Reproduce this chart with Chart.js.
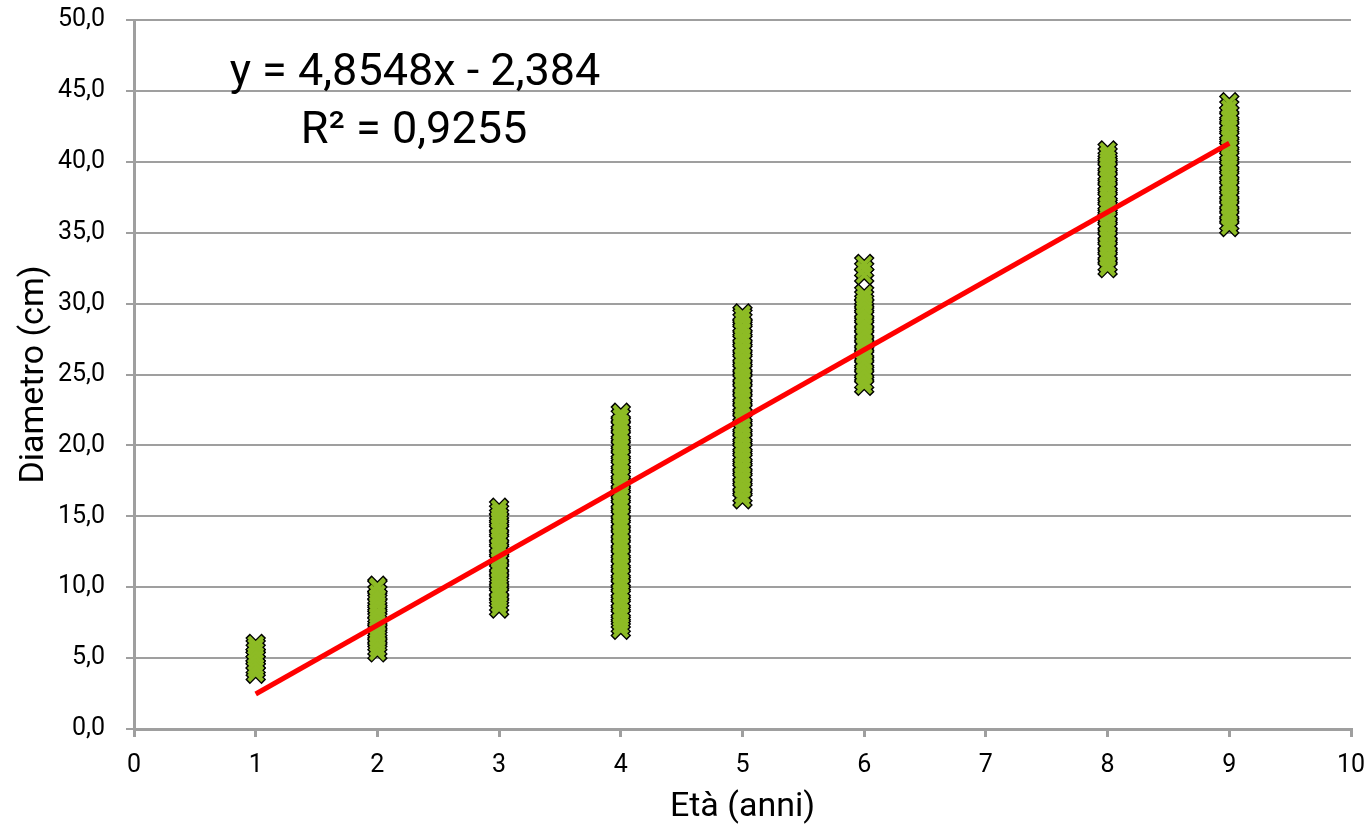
<!DOCTYPE html>
<html>
<head>
<meta charset="utf-8">
<script src="https://cdn.jsdelivr.net/npm/chart.js@4.4.1/dist/chart.umd.min.js"></script>
<style>
  body { margin: 0; background: #fff; }
  #wrap { width: 1369px; height: 831px; position: relative; }
</style>
</head>
<body>
<div id="wrap"><canvas id="chart"></canvas></div>
<script>
// Diameter (cm) measurements per age (years)
const diam1 = [3.9, 4.2, 4.4, 4.7, 5.0, 5.2, 5.5, 5.8, 6.0];
const diam2 = [5.4, 5.7, 6.0, 6.4, 6.7, 7.0, 7.4, 7.7, 8.0, 8.3, 8.7, 9.0, 9.3, 9.6, 10.0, 10.1];
const diam3 = [8.5, 8.8, 9.1, 9.5, 9.8, 10.2, 10.5, 10.8, 11.2, 11.5, 11.9, 12.2, 12.6, 12.9,
  13.3, 13.6, 14.0, 14.3, 14.7, 15.0, 15.3, 15.6];
const diam4 = [7.0, 7.3, 7.6, 8.0, 8.3, 8.7, 9.0, 9.4, 9.7, 10.1, 10.4, 10.8, 11.1, 11.5, 11.8,
  12.2, 12.5, 12.9, 13.2, 13.6, 13.9, 14.3, 14.6, 15.0, 15.3, 15.7, 16.0, 16.4, 16.7, 17.1,
  17.4, 17.8, 18.1, 18.5, 18.8, 19.2, 19.5, 19.9, 20.2, 20.6, 20.9, 21.3, 21.6, 22.0, 22.3];
const diam5 = [16.2, 16.5, 16.9, 17.2, 17.6, 17.9, 18.3, 18.6, 19.0, 19.3, 19.7, 20.0, 20.4,
  20.7, 21.1, 21.4, 21.8, 22.1, 22.5, 22.8, 23.2, 23.5, 23.9, 24.2, 24.6, 24.9, 25.3, 25.6,
  26.0, 26.3, 26.7, 27.0, 27.4, 27.7, 28.1, 28.4, 28.8, 29.1, 29.3];
const diam6 = [24.2, 24.5, 24.9, 25.2, 25.6, 25.9, 26.3, 26.6, 27.0, 27.3, 27.7, 28.0, 28.4,
  28.7, 29.1, 29.4, 29.8, 30.1, 30.4, 30.7, 32.0, 32.4, 32.8];
const diam8 = [32.5, 32.8, 33.2, 33.5, 33.9, 34.2, 34.6, 34.9, 35.3, 35.6, 36.0, 36.3, 36.7,
  37.0, 37.4, 37.7, 38.1, 38.4, 38.8, 39.1, 39.5, 39.8, 40.2, 40.5, 40.8];
const diam9 = [35.4, 35.7, 36.1, 36.4, 36.8, 37.1, 37.5, 37.8, 38.2, 38.5, 38.9, 39.2, 39.6,
  39.9, 40.3, 40.6, 41.0, 41.3, 41.7, 42.0, 42.4, 42.7, 43.1, 43.4, 43.8, 44.2];

const ages = [1, 2, 3, 4, 5, 6, 8, 9];
const diamByAge = [diam1, diam2, diam3, diam4, diam5, diam6, diam8, diam9];

// Linear trend line (from the chart label)
const slope = 4.8548;
const intercept = -2.384;
const trendX = [1, 9];
const equationText = "y = 4,8548x - 2,384";
const r2Text = "R² = 0,9255";

const xTicks = [0, 10, 1]; // min, max, step
const yTicks = [0, 50, 5];

const gridGray = "#9F9F9F";

// Build scatter points
const points = [];
ages.forEach((age, i) => {
  diamByAge[i].forEach((d) => points.push({ x: age, y: d }));
});
const trendPoints = trendX.map((x) => ({ x: x, y: slope * x + intercept }));

// Draw the equation and R² label
const equationLabel = {
  id: "equationLabel",
  afterDatasetsDraw(chart) {
    const ctx = chart.ctx;
    ctx.save();
    ctx.fillStyle = "#000";
    ctx.font = "45px Roboto";
    ctx.textAlign = "center";
    ctx.textBaseline = "alphabetic";
    ctx.fillText(equationText, 415, 85);
    ctx.fillText(r2Text, 414, 143);
    ctx.restore();
  },
};

// Fixed axis sizes, no extra label padding around the plot
function fixSize(scale, w, h) {
  if (w) scale.width = w;
  if (h) scale.height = h;
  scale.paddingTop = 0;
  scale.paddingBottom = 0;
  scale.paddingLeft = 0;
  scale.paddingRight = 0;
}

const ctx = document.getElementById("chart");

new Chart(ctx, {
  type: "scatter",
  data: {
    datasets: [
      {
        type: "line",
        label: "Trend",
        data: trendPoints,
        borderColor: "#FF0000",
        borderWidth: 5,
        pointRadius: 0,
        fill: false,
        order: 0,
      },
      {
        label: "Diametro",
        data: points,
        pointStyle: "crossRot",
        pointRadius: 10,
        pointBorderWidth: 4,
        borderColor: "#8DBB25",
        backgroundColor: "#8DBB25",
        order: 1,
      },
      {
        label: "Bordo",
        data: points,
        pointStyle: "crossRot",
        pointRadius: 11.5,
        pointBorderWidth: 6.5,
        borderColor: "#000",
        backgroundColor: "#000",
        order: 2,
      },
    ],
  },
  options: {
    responsive: true,
    maintainAspectRatio: false,
    animation: false,
    layout: {
      padding: { top: 20, right: 16, left: 0, bottom: 0 },
    },
    plugins: {
      legend: { display: false },
      tooltip: { enabled: false },
    },
    scales: {
      x: {
        type: "linear",
        min: xTicks[0],
        max: xTicks[1],
        afterFit: (scale) => fixSize(scale, 0, 102),
        ticks: {
          stepSize: xTicks[2],
          color: "#000",
          font: { family: "Roboto", size: 25 },
          padding: 14,
          maxRotation: 0,
        },
        grid: {
          drawOnChartArea: false,
          drawTicks: true,
          tickLength: 8,
          color: gridGray,
          lineWidth: 3,
        },
        border: { color: gridGray, width: 3 },
        title: {
          display: true,
          text: "Età (anni)",
          color: "#000",
          font: { family: "Roboto", size: 34 },
          padding: { top: 0, bottom: 3 },
        },
      },
      y: {
        type: "linear",
        min: yTicks[0],
        max: yTicks[1],
        afterFit: (scale) => fixSize(scale, 134, 0),
        ticks: {
          stepSize: yTicks[2],
          color: "#000",
          font: { family: "Roboto", size: 25 },
          padding: 21,
          callback: (v) => v.toFixed(1).replace(".", ","),
        },
        grid: {
          drawTicks: true,
          tickLength: 8,
          color: gridGray,
          lineWidth: 2,
        },
        border: { color: gridGray, width: 3 },
        title: {
          display: true,
          text: "Diametro (cm)",
          color: "#000",
          font: { family: "Roboto", size: 34 },
          padding: { top: 14, bottom: 0 },
        },
      },
    },
  },
  plugins: [equationLabel],
});
</script>
</body>
</html>
